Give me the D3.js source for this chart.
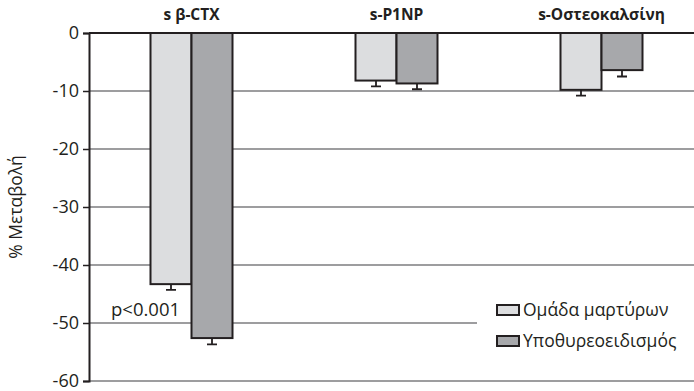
<!DOCTYPE html>
<html>
<head>
<meta charset="utf-8">
<script src="https://cdn.jsdelivr.net/npm/d3@7"></script>
<style>
  body { margin: 0; background: #fff; }
  svg text { font-family: "Open Sans", "Noto Sans", sans-serif; fill: #231f20; }
</style>
</head>
<body>
<svg id="chart" width="694" height="391"></svg>
<script>
// markers and groups
const categories = ["s β-CTX", "s-P1NP", "s-Οστεοκαλσίνη"];
const groups = ["Ομάδα μαρτύρων", "Υποθυρεοειδισμός"];
// % change
const controlValues = [-43.3, -8.2, -9.8];
const hypoValues = [-52.6, -8.7, -6.4];
// lower error bar length
const controlErr = [1.0, 1.0, 1.0];
const hypoErr = [1.1, 1.0, 1.1];
const yTicks = [0, -10, -20, -30, -40, -50, -60];

const colors = ["#dcdddf", "#a7a8ab"];

const svg = d3.select("#chart");

const x0 = d3.scaleBand()
    .domain(categories)
    .range([89, 704])
    .paddingInner(0.6)
    .paddingOuter(0.3);

const x1 = d3.scaleBand()
    .domain(groups)
    .range([0, x0.bandwidth()]);

const y = d3.scaleLinear()
    .domain([0, -60])
    .range([33, 381]);

const rows = categories.map((c, i) => ({
    cat: c,
    bars: [
        {g: groups[0], v: controlValues[i], e: controlErr[i], col: colors[0]},
        {g: groups[1], v: hypoValues[i], e: hypoErr[i], col: colors[1]}
    ]
}));

// gridlines
svg.append("g")
    .selectAll("line")
    .data(yTicks.filter(t => t !== 0))
    .join("line")
    .attr("x1", 89)
    .attr("x2", 694)
    .attr("y1", d => y(d))
    .attr("y2", d => y(d))
    .attr("stroke", "#7d7d7f")
    .attr("stroke-width", 1.5);

// bars
const grp = svg.append("g")
    .selectAll("g")
    .data(rows)
    .join("g")
    .attr("transform", d => `translate(${x0(d.cat)},0)`);

grp.selectAll("rect")
    .data(d => d.bars)
    .join("rect")
    .attr("x", d => x1(d.g))
    .attr("y", y(0))
    .attr("width", x1.bandwidth())
    .attr("height", d => y(d.v) - y(0))
    .attr("fill", d => d.col)
    .attr("stroke", "#231f20")
    .attr("stroke-width", 2);

// error bars (downward only)
grp.selectAll("path.err")
    .data(d => d.bars)
    .join("path")
    .attr("class", "err")
    .attr("d", d => {
        const cx = x1(d.g) + x1.bandwidth() / 2;
        const y1 = y(d.v), y2 = y(d.v - d.e);
        return `M${cx},${y1}V${y2}M${cx - 5},${y2}H${cx + 5}`;
    })
    .attr("fill", "none")
    .attr("stroke", "#231f20")
    .attr("stroke-width", 1.8);

// zero line
svg.append("line")
    .attr("x1", 89).attr("x2", 694)
    .attr("y1", y(0)).attr("y2", y(0))
    .attr("stroke", "#231f20")
    .attr("stroke-width", 2);

// y axis
const yAxis = d3.axisLeft(y)
    .tickValues(yTicks)
    .tickSize(6)
    .tickPadding(4)
    .tickFormat(d => String(d));

const ya = svg.append("g")
    .attr("transform", "translate(89,0)")
    .call(yAxis);
ya.attr("font-family", null).attr("font-size", null);
ya.select(".domain").attr("stroke", "#231f20").attr("stroke-width", 2);
ya.selectAll(".tick line").attr("stroke", "#231f20").attr("stroke-width", 1.5);
ya.selectAll(".tick text")
    .style("font-size", "18px")
    .attr("dy", "0.3em")
    .attr("fill", "#231f20");

// axis title
svg.append("text")
    .attr("transform", "translate(22,207) rotate(-90)")
    .attr("text-anchor", "middle")
    .style("font-size", "17.5px")
    .text("% Μεταβολή");

// category labels on top
svg.append("g")
    .selectAll("text")
    .data(categories)
    .join("text")
    .attr("x", d => x0(d) + x0.bandwidth() / 2)
    .attr("y", 20)
    .attr("text-anchor", "middle")
    .style("font-size", "15.5px")
    .attr("font-weight", "bold")
    .text(d => d);

// significance note
svg.append("text")
    .attr("x", 111)
    .attr("y", 316)
    .style("font-size", "18.5px")
    .text("p<0.001");

// legend, with a white box that hides the gridline behind it
const legend = svg.append("g").attr("transform", "translate(477,296)");
legend.append("rect")
    .attr("width", 217).attr("height", 60)
    .attr("fill", "#fff");

const li = legend.selectAll("g")
    .data(groups)
    .join("g")
    .attr("transform", (d, i) => `translate(20,${9 + i * 31})`);
li.append("rect")
    .attr("width", 22).attr("height", 10)
    .attr("fill", (d, i) => colors[i])
    .attr("stroke", "#231f20")
    .attr("stroke-width", 2);
li.append("text")
    .attr("x", 26)
    .attr("y", 5)
    .attr("dy", "0.35em")
    .style("font-size", "17.5px")
    .text(d => d);
</script>
</body>
</html>
